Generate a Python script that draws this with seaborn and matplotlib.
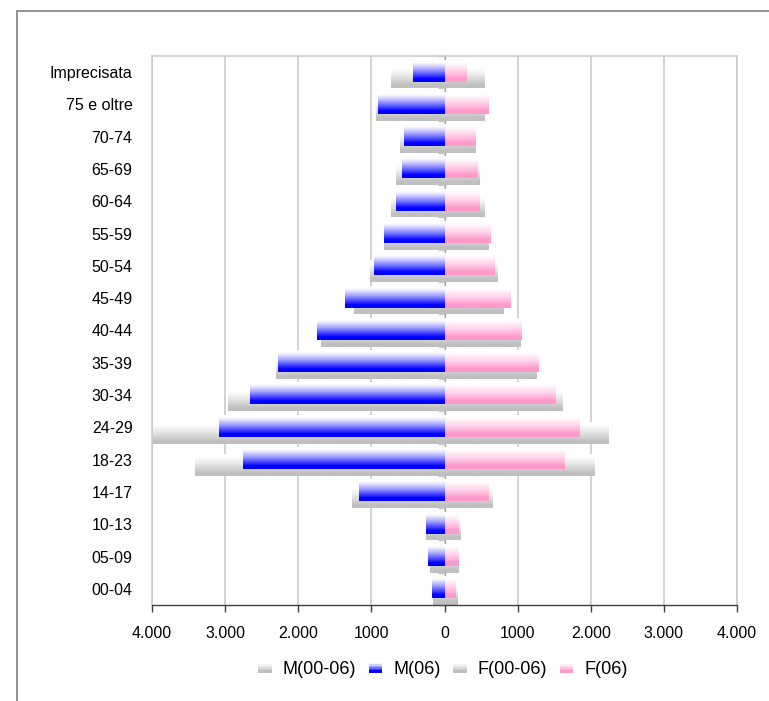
import numpy as np
import pandas as pd
import matplotlib
matplotlib.use("Agg")
import matplotlib.pyplot as plt
import matplotlib.colors as mcolors
from matplotlib.patches import Rectangle
from matplotlib.lines import Line2D
from matplotlib.legend_handler import HandlerBase
import seaborn as sns

# Age classes, top to bottom
categories = ["Imprecisata", "75 e oltre", "70-74", "65-69", "60-64", "55-59",
              "50-54", "45-49", "40-44", "35-39", "30-34", "24-29", "18-23",
              "14-17", "10-13", "05-09", "00-04"]

m_00_06 = [730, 936, 607, 662, 730, 830, 1018, 1237, 1689, 2305, 2963, 3990,
           3415, 1264, 255, 196, 155]
m_06 = [433, 908, 552, 580, 662, 826, 963, 1360, 1744, 2278, 2662, 3086,
        2758, 1168, 251, 223, 168]
f_00_06 = [539, 539, 416, 471, 539, 593, 716, 798, 1030, 1248, 1603, 2231,
           2040, 648, 211, 184, 170]
f_06 = [293, 593, 416, 443, 471, 621, 675, 894, 1044, 1276, 1508, 1835,
        1630, 593, 184, 184, 143]

series_names = ["M(00-06)", "M(06)", "F(00-06)", "F(06)"]
x_ticks = [-4000, -3000, -2000, -1000, 0, 1000, 2000, 3000, 4000]
x_tick_labels = ["4.000", "3.000", "2.000", "1000", "0", "1000", "2.000", "3.000", "4.000"]

GRAY = "#C0C0C0"
BLUE = "#0000FF"
PINK = "#FF99CC"

sns.set_style("white")
plt.rcParams["font.family"] = ["Liberation Sans", "DejaVu Sans"]
plt.rcParams["text.color"] = "black"
plt.rcParams["xtick.color"] = "black"
plt.rcParams["ytick.color"] = "black"

fig = plt.figure(figsize=(7.69, 7.01), dpi=100)
ax = fig.add_axes([152 / 769, 96 / 701, 585 / 769, 549 / 701])

df = pd.DataFrame({
    "cat": categories,
    "m_old": [-v for v in m_00_06],
    "m_new": [-v for v in m_06],
    "f_old": f_00_06,
    "f_new": f_06,
})

BAR_H = 0.68
# previous-period bars first (behind), then current ones
sns.barplot(data=df, x="m_old", y="cat", orient="h", width=BAR_H, color=GRAY, ax=ax, zorder=2)
sns.barplot(data=df, x="f_old", y="cat", orient="h", width=BAR_H, color=GRAY, ax=ax, zorder=2)
sns.barplot(data=df, x="m_new", y="cat", orient="h", width=BAR_H, color=BLUE, ax=ax, zorder=3)
sns.barplot(data=df, x="f_new", y="cat", orient="h", width=BAR_H, color=PINK, ax=ax, zorder=3)

ax.set_xlim(-4000, 4000)
ax.set_ylim(len(categories) - 0.5, -0.5)


def ramp(color, n=64):
    t = np.linspace(0, 1, n)
    f = np.clip((t - 0.08) / 0.78, 0, 1) ** 1.25
    c = np.array(mcolors.to_rgb(color))
    rgb = (1 - f)[:, None] * 1.0 + f[:, None] * c[None, :]
    return rgb


def gradient_bars(container, color, dy, zorder):
    grad = ramp(color)[:, None, :]
    for p in container.patches:
        p.set_y(p.get_y() + dy)
        x0, y0, w, h = p.get_x(), p.get_y(), p.get_width(), p.get_height()
        ax.imshow(grad, extent=(x0, x0 + w, y0 + h, y0), origin="upper",
                  aspect="auto", interpolation="bilinear", zorder=zorder)
        p.set_visible(False)


bar_cols = [GRAY, GRAY, BLUE, PINK]
offsets = [0.16, 0.16, -0.05, -0.05]
zs = [2, 2, 3, 3]
for cont, c, dy, z in zip(ax.containers, bar_cols, offsets, zs):
    gradient_bars(cont, c, dy, z)

ax.set_xlim(-4000, 4000)
ax.set_ylim(len(categories) - 0.5, -0.5)

# grid and frame
ax.set_xticks(x_ticks)
ax.set_xticklabels(x_tick_labels)
ax.xaxis.grid(True, color="#C8C8C8", linewidth=1.1, zorder=0)
ax.yaxis.grid(False)
ax.set_axisbelow(True)
for s in ["top", "right", "left"]:
    ax.spines[s].set_color("#C8C8C8")
    ax.spines[s].set_linewidth(1.1)
ax.spines["bottom"].set_color("#404040")
ax.spines["bottom"].set_linewidth(1.0)
ax.tick_params(axis="x", direction="out", length=5, width=1, color="#404040",
               labelsize=11.5, pad=10, bottom=True)
ax.tick_params(axis="y", length=0, labelsize=11.5, pad=14)
ax.set_xlabel("")
ax.set_ylabel("")

# central category axis with small tick marks between classes
sec = ax.secondary_yaxis(0.5)
sec.set_yticks(np.arange(-0.5, len(categories), 1.0))
sec.set_yticklabels([])
sec.tick_params(axis="y", direction="in", length=5, width=1, color="#C8C8C8")
sec.spines["left"].set_color("#C8C8C8")
sec.spines["left"].set_linewidth(1.1)


class GradientHandler(HandlerBase):
    def __init__(self, color):
        super().__init__()
        self.color = color

    def create_artists(self, legend, orig_handle, xdescent, ydescent, width,
                       height, fontsize, trans):
        rgb = ramp(self.color, 8)
        n = len(rgb)
        arts = []
        for i, c in enumerate(rgb):
            y = -ydescent + height * (1 - (i + 1) / n)
            arts.append(Rectangle((-xdescent, y), width, height / n,
                                  facecolor=c, edgecolor="none", transform=trans))
        return arts


legend_cols = [GRAY, BLUE, GRAY, PINK]
handles = [Rectangle((0, 0), 1, 1) for _ in series_names]
handler_map = {h: GradientHandler(c) for h, c in zip(handles, legend_cols)}
fig.legend(handles, series_names, handler_map=handler_map, loc="center",
           bbox_to_anchor=(443 / 769, 1 - 669 / 701), ncol=4, frameon=False,
           fontsize=13, handlelength=0.75, handleheight=0.6, handletextpad=0.6,
           columnspacing=0.7)

# outer chart frame
fig.add_artist(Line2D([17 / 769, 1.0], [1 - 11 / 701, 1 - 11 / 701],
                      transform=fig.transFigure, color="#808080", linewidth=1.2))
fig.add_artist(Line2D([17 / 769, 17 / 769], [0.0, 1 - 11 / 701],
                      transform=fig.transFigure, color="#808080", linewidth=1.2))

fig.savefig("out.png", dpi=100, facecolor="white")
